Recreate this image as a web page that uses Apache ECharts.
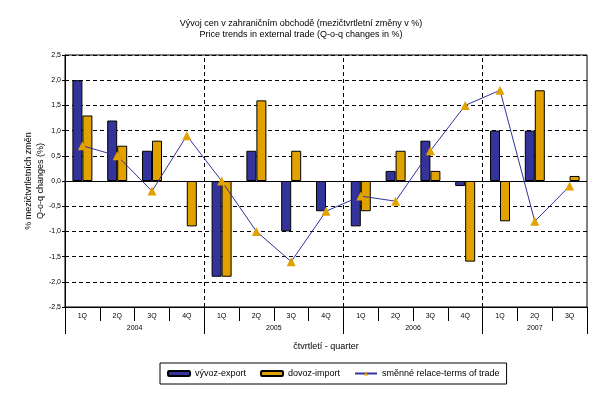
<!DOCTYPE html>
<html>
<head>
<meta charset="utf-8">
<script src="https://cdn.jsdelivr.net/npm/echarts@6/dist/echarts.min.js"></script>
<style>html,body{margin:0;padding:0;background:#fff}#c{width:602px;height:400px}</style>
</head>
<body>
<div id="c"></div>
<script>
var quarters = ['1Q','2Q','3Q','4Q','1Q','2Q','3Q','4Q','1Q','2Q','3Q','4Q','1Q','2Q','3Q'];
var years = ['2004','2005','2006','2007'];
var yearStarts = [0, 4, 8, 12, 15];
var exportVals = [2.0, 1.2, 0.6, null, -1.9, 0.6, -1.0, -0.6, -0.9, 0.2, 0.8, -0.1, 1.0, 1.0, null];
var importVals = [1.3, 0.7, 0.8, -0.9, -1.9, 1.6, 0.6, null, -0.6, 0.6, 0.2, -1.6, -0.8, 1.8, 0.1];
var termsVals = [0.7, 0.5, -0.2, 0.9, 0.0, -1.0, -1.6, -0.6, -0.3, -0.4, 0.6, 1.5, 1.8, -0.8, -0.1];

var yearCenters = [];
for (var i = 0; i < years.length; i++) yearCenters.push((yearStarts[i] + yearStarts[i + 1]) / 2);

var FONT = 'Liberation Sans, Arial, sans-serif';
var chart = echarts.init(document.getElementById('c'));
chart.setOption({
  backgroundColor: '#fff',
  animation: false,
  textStyle: { fontFamily: FONT, color: '#000' },
  title: {
    text: 'Vývoj cen v zahraničním obchodě (mezičtvrtletní změny v %)',
    subtext: 'Price trends in external trade (Q-o-q changes in %)',
    left: 'center', top: 19, itemGap: 2, padding: 0,
    textStyle: { fontSize: 9, fontWeight: 'normal', color: '#000', fontFamily: FONT },
    subtextStyle: { fontSize: 9, color: '#000', fontFamily: FONT }
  },
  legend: {
    left: 160, top: 363, padding: [6, 7, 6, 7],
    borderColor: '#000', borderWidth: 1,
    itemWidth: 22, itemHeight: 5, itemGap: 14,
    textStyle: { fontSize: 9, color: '#000', fontFamily: FONT },
    data: ['vývoz-export', 'dovoz-import', 'směnné relace-terms of trade']
  },
  grid: {
    left: 65, top: 55, width: 522, height: 252,
    show: true, borderColor: '#000', borderWidth: 1, containLabel: false
  },
  xAxis: [{
    type: 'category', data: quarters, position: 'bottom',
    axisLine: { onZero: false, lineStyle: { color: '#000', width: 1 } },
    axisTick: { show: true, length: 14, lineStyle: { color: '#000' } },
    axisLabel: { fontSize: 7, color: '#000', margin: 6, interval: 0 },
    splitLine: { show: false },
    name: 'čtvrtletí - quarter', nameLocation: 'middle', nameGap: 35, nameMoveOverlap: false,
    nameTextStyle: { fontSize: 9, color: '#000' }
  }, {
    type: 'value', min: 0, max: 15, position: 'bottom',
    axisLine: { show: false, onZero: false },
    axisTick: { show: true, length: 27, customValues: yearStarts, lineStyle: { color: '#000' } },
    axisLabel: {
      fontSize: 7, color: '#000', margin: 18, customValues: yearCenters,
      formatter: function (v) { var k = yearCenters.indexOf(v); return k >= 0 ? years[k] : ''; }
    },
    splitLine: { show: false }
  }],
  yAxis: {
    type: 'value', min: -2.5, max: 2.5, interval: 0.5,
    axisLine: { show: true, lineStyle: { color: '#000' } },
    axisTick: { show: true, length: 3, lineStyle: { color: '#000' } },
    axisLabel: { fontSize: 7, color: '#000', margin: 4,
      formatter: function (v) { return v.toFixed(1).replace('.', ','); } },
    splitLine: { show: true, lineStyle: { color: '#000', type: [4, 3], width: 1 } },
    name: '% mezičtvrtletních změn\nQ-o-q changes (%)', nameLocation: 'middle', nameGap: 18, nameRotate: 90,
    nameMoveOverlap: false,
    nameTextStyle: { fontSize: 9, color: '#000', lineHeight: 12 }
  },
  series: [{
    name: 'vývoz-export', type: 'bar', data: exportVals, barWidth: 10, barGap: '0%',
    itemStyle: { color: '#333399', borderColor: '#000', borderWidth: 1 },
    markLine: {
      silent: true, symbol: 'none', label: { show: false },
      lineStyle: { color: '#000', type: 'solid', width: 1 },
      data: [{ yAxis: 0 }]
    }
  }, {
    name: 'dovoz-import', type: 'bar', data: importVals, barWidth: 10, barGap: '0%',
    itemStyle: { color: '#E1A200', borderColor: '#000', borderWidth: 1 }
  }, {
    name: 'směnné relace-terms of trade', type: 'line', data: termsVals,
    symbol: 'triangle', symbolSize: 9,
    lineStyle: { color: '#333399', width: 1 },
    itemStyle: { color: '#E1A200' },
    z: 5
  }, {
    name: 'years', type: 'line', xAxisIndex: 1, data: [],
    markLine: {
      silent: true, symbol: 'none', label: { show: false },
      lineStyle: { color: '#000', type: [4, 3], width: 1 },
      data: [{ xAxis: 4 }, { xAxis: 8 }, { xAxis: 12 }]
    }
  }]
});
</script>
</body>
</html>
